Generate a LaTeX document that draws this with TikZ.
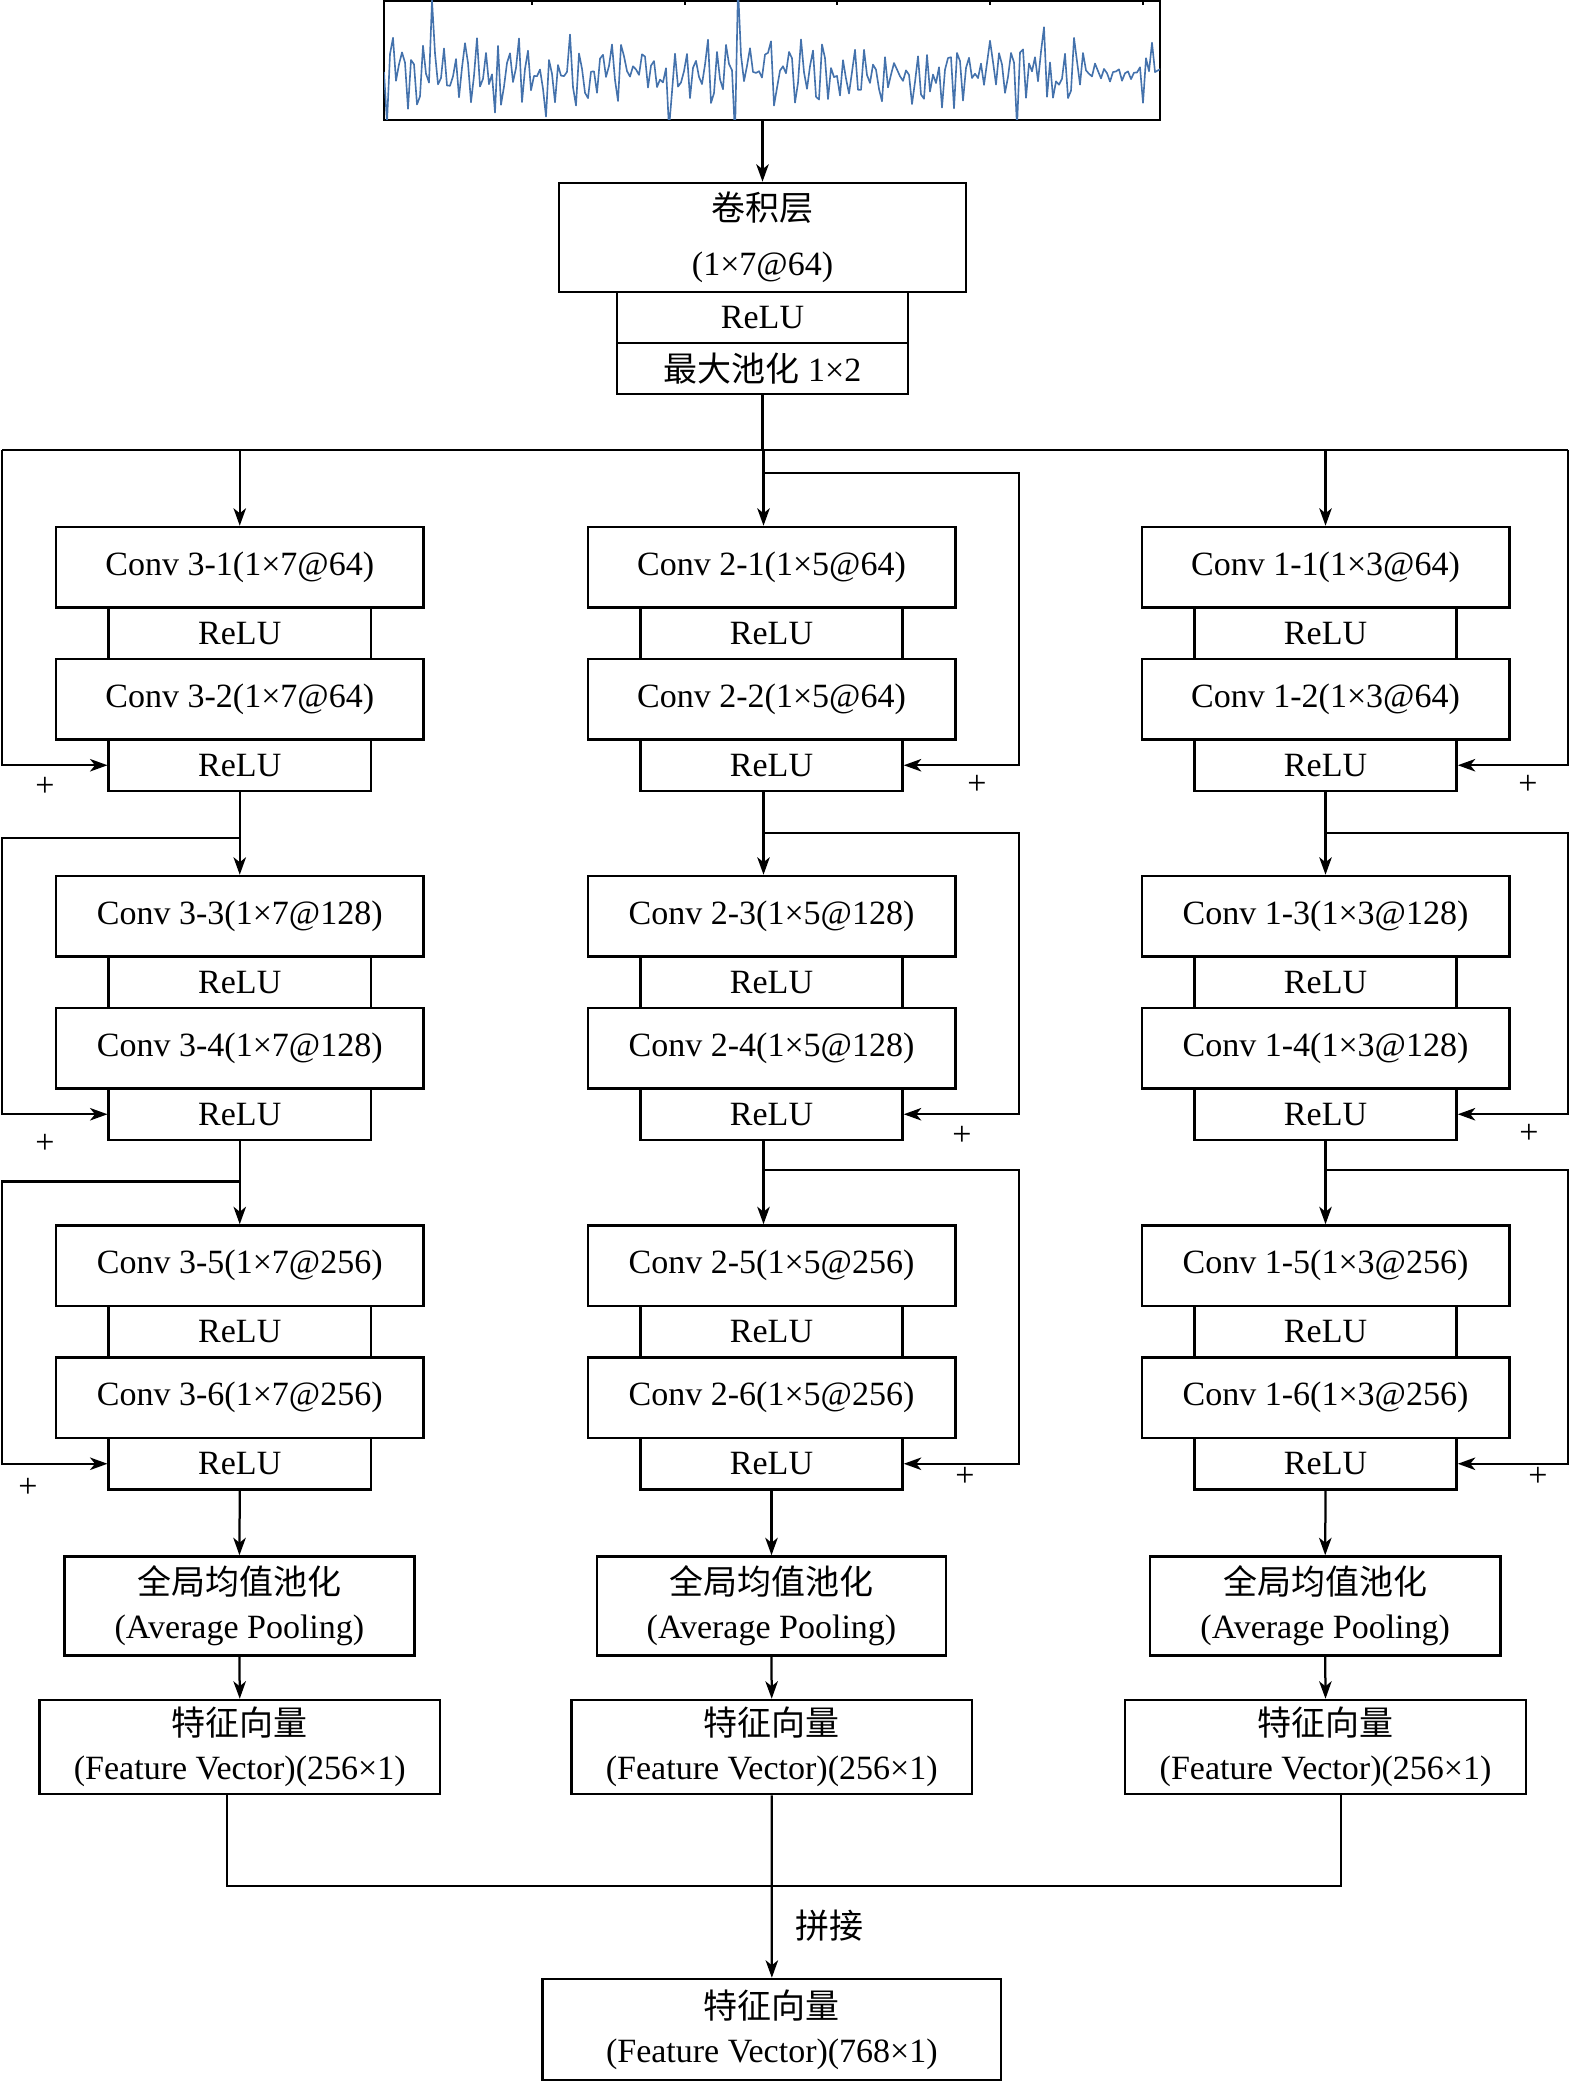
\documentclass[tikz,border=0pt]{standalone}
\usepackage{fontspec}
\setmainfont{Liberation Serif}
\newfontfamily\cjk{Noto Sans CJK SC}
\usetikzlibrary{arrows.meta,calc}
\definecolor{sigblue}{RGB}{68,114,172}
\tikzset{
  box/.style={draw, line width=1pt, inner sep=0pt, align=center, font=\fontsize{13.6}{17.6}\selectfont},
  conn/.style={line width=0.9pt},
  arr/.style={conn, -{Stealth[length=7pt,width=5pt,inset=2pt]}},
  plus/.style={inner sep=0pt, font=\fontsize{13.6}{16}\selectfont},
  lbl/.style={inner sep=0pt, font=\fontsize{13.6}{16}\selectfont},
}
\newcommand\mkbox[6]{\node[box, minimum width={(#4-#2)*0.4pt}, minimum height={(#5-#3)*0.4pt}] (#1) at ({(#2+#4)/2},{(#3+#5)/2}) {#6};}
\newcommand\convbox[4]{\node[box, minimum width=147pt, minimum height=32.2pt] (#1) at (#2,{#3+40.25}) {#4};}
\newcommand\relubox[3]{\node[box, minimum width=104.8pt, minimum height=20.6pt] (#1) at (#2,{#3+25.75}) {ReLU};}
\newcommand\resblock[5]{%
  \convbox{#3a}{#1}{#2}{#4}
  \relubox{#3ra}{#1}{#2+80.5}
  \convbox{#3b}{#1}{#2+132}{#5}
  \relubox{#3rb}{#1}{#2+212.5}
}
\begin{document}
\begin{tikzpicture}[x=0.4pt,y=-0.4pt]
\useasboundingbox (0,0) rectangle (1570,2083);

% ---- input signal ----
\node[draw, line width=1pt, inner sep=0pt, minimum width={776*0.4pt}, minimum height={119*0.4pt}] (sig) at (772,60.5) {};
\begin{scope}
\clip (384,1) rectangle (1160,120);
\pgfmathsetseed{23}
\draw[sigblue, line width=0.65pt, line join=round] (384,72)
  \foreach \i [evaluate=\i as \xx using {384+3*\i},
               evaluate=\i as \yy using {73
                 + (33-25*((384+3*\i)>1085)*((384+3*\i)<1140))*(0.6*sin(mod(\i,7)*102.857)+0.6*rand)
                 + 50*(abs(384+3*\i-387)<1) - 45*(abs(384+3*\i-432)<1)
                 + 45*(abs(384+3*\i-495)<1) + 45*(abs(384+3*\i-546)<1)
                 + 45*(abs(384+3*\i-669)<1) + 55*(abs(384+3*\i-735)<1)
                 - 56*(abs(384+3*\i-738)<1) - 42*(abs(384+3*\i-765)<1)
                 + 42*(abs(384+3*\i-1017)<1) - 44*(abs(384+3*\i-1044)<1)
                 + 55*(abs(384+3*\i-1053)<1) - 30*(abs(384+3*\i-1152)<1)}]
  in {1,...,259} { -- (\xx,\yy) };
\end{scope}
\foreach \t in {532,685,837,990,1143} { \draw[line width=0.5pt] (\t,1) -- (\t,5); }

% ---- stem ----
\mkbox{conv0}{559}{183}{966}{292}{{\cjk 卷积层}\\[4.4pt](1×7@64)}
\mkbox{relu0}{617}{292}{908}{343}{ReLU}
\mkbox{pool0}{617}{343}{908}{394}{{\cjk 最大池化} 1×2}

\coordinate (busL) at (2,450);
\coordinate (busR) at (1568,450);
\draw[arr] (sig.south -| conv0.north) -- (conv0.north);
\draw[conn] (pool0.south) -- (pool0.south |- busL);
\draw[conn] (busL) -- (busR);

% ---- residual columns ----
\resblock{239.75}{527}{L1}{Conv 3-1(1×7@64)}{Conv 3-2(1×7@64)}
\resblock{239.75}{876}{L2}{Conv 3-3(1×7@128)}{Conv 3-4(1×7@128)}
\resblock{239.75}{1225.5}{L3}{Conv 3-5(1×7@256)}{Conv 3-6(1×7@256)}

\resblock{771.5}{527}{M1}{Conv 2-1(1×5@64)}{Conv 2-2(1×5@64)}
\resblock{771.5}{876}{M2}{Conv 2-3(1×5@128)}{Conv 2-4(1×5@128)}
\resblock{771.5}{1225.5}{M3}{Conv 2-5(1×5@256)}{Conv 2-6(1×5@256)}

\resblock{1325.5}{527}{R1}{Conv 1-1(1×3@64)}{Conv 1-2(1×3@64)}
\resblock{1325.5}{876}{R2}{Conv 1-3(1×3@128)}{Conv 1-4(1×3@128)}
\resblock{1325.5}{1225.5}{R3}{Conv 1-5(1×3@256)}{Conv 1-6(1×3@256)}

% ---- pooling and feature vectors ----
\mkbox{avgL}{64.4}{1556.5}{414.5}{1655.7}{{\cjk 全局均值池化}\\(Average Pooling)}
\mkbox{avgM}{597}{1556.5}{946}{1655.7}{{\cjk 全局均值池化}\\(Average Pooling)}
\mkbox{avgR}{1150}{1556.5}{1500.4}{1655.7}{{\cjk 全局均值池化}\\(Average Pooling)}
\mkbox{fvL}{39.5}{1700}{440}{1794}{{\cjk 特征向量}\\(Feature Vector)(256×1)}
\mkbox{fvM}{571.4}{1700}{972}{1794}{{\cjk 特征向量}\\(Feature Vector)(256×1)}
\mkbox{fvR}{1125}{1700}{1526}{1794}{{\cjk 特征向量}\\(Feature Vector)(256×1)}
\mkbox{fin}{542.7}{1979}{1001}{2080}{{\cjk 特征向量}\\(Feature Vector)(768×1)}

% ---- left column connectors ----
\draw[arr] (L1a.north |- busL) -- (L1a.north);
\draw[arr] (busL) |- (L1rb.west);
\draw[arr] (L1rb.south) -- (L2a.north);
\coordinate (L2s) at (239.75,838);
\draw[arr] (L2s) -- (L2s -| busL) |- (L2rb.west);
\draw[arr] (L2rb.south) -- (L3a.north);
\coordinate (L3s) at (239.75,1181.5);
\draw[arr] (L3s) -- (L3s -| busL) |- (L3rb.west);
\draw[arr] (L3rb.south) -- (avgL.north);
\draw[arr] (avgL.south) -- (fvL.north);

% ---- middle column connectors ----
\coordinate (mx) at (763.5,450);
\coordinate (mr) at (1019,450);
\draw[arr] (mx) -- (mx |- M1a.north);
\coordinate (M1s) at (763.5,472.7);
\draw[arr] (M1s) -- (M1s -| mr) |- (M1rb.east);
\draw[arr] (mx |- M1rb.south) -- (mx |- M2a.north);
\coordinate (M2s) at (763.5,833);
\draw[arr] (M2s) -- (M2s -| mr) |- (M2rb.east);
\draw[arr] (mx |- M2rb.south) -- (mx |- M3a.north);
\coordinate (M3s) at (763.5,1170);
\draw[arr] (M3s) -- (M3s -| mr) |- (M3rb.east);
\draw[arr] (M3rb.south) -- (avgM.north);
\draw[arr] (avgM.south) -- (fvM.north);

% ---- right column connectors ----
\draw[arr] (R1a.north |- busR) -- (R1a.north);
\draw[arr] (busR) |- (R1rb.east);
\draw[arr] (R1rb.south) -- (R2a.north);
\coordinate (R2s) at (1325.5,833);
\draw[arr] (R2s) -- (R2s -| busR) |- (R2rb.east);
\draw[arr] (R2rb.south) -- (R3a.north);
\coordinate (R3s) at (1325.5,1170);
\draw[arr] (R3s) -- (R3s -| busR) |- (R3rb.east);
\draw[arr] (R3rb.south) -- (avgR.north);
\draw[arr] (avgR.south) -- (fvR.north);

% ---- plus signs ----
\node[plus] (pL1) at (45,787) {+};
\node[plus] (pL2) at (45,1144) {+};
\node[plus] (pL3) at (28,1488) {+};
\node[plus] (pM1) at (977,785) {+};
\node[plus] (pM2) at (962,1136) {+};
\node[plus] (pM3) at (965,1477) {+};
\node[plus] (pR1) at (1528,785) {+};
\node[plus] (pR2) at (1529,1134) {+};
\node[plus] (pR3) at (1538,1477) {+};

% ---- concatenation ----
\coordinate (jL) at (227,1886);
\coordinate (jR) at (1341,1886);
\draw[conn] (fvL.south -| jL) -- (jL) -- (jR) -- (fvR.south -| jR);
\draw[arr] (fvM.south) -- (fin.north);
\node[lbl] (cat) at (829,1926) {\cjk 拼接};
\end{tikzpicture}
\end{document}
